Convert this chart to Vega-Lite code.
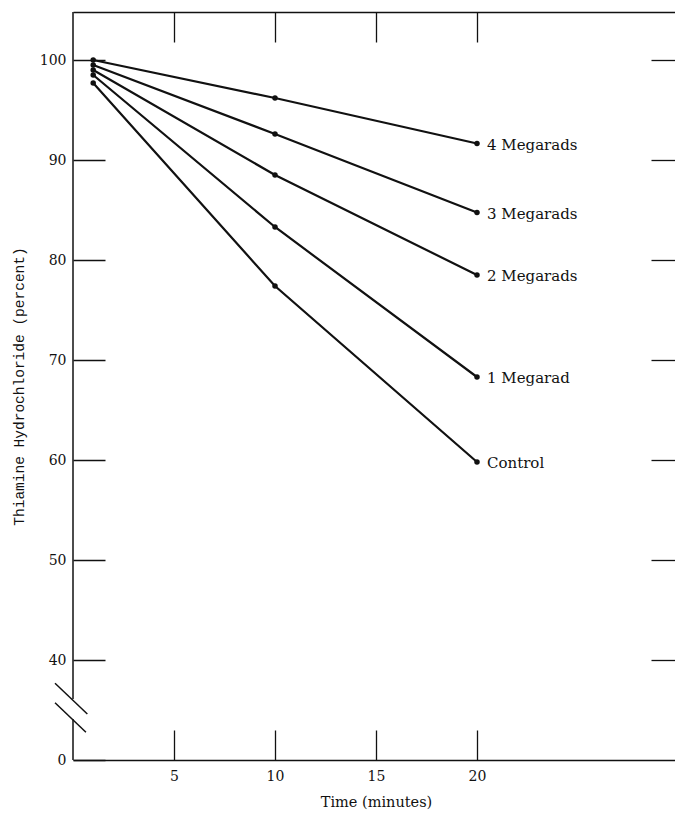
{
  "$schema": "https://vega.github.io/schema/vega-lite/v6.json",
  "width": 606,
  "height": 748,
  "autosize": {"type": "none"},
  "padding": {"left": 73, "top": 12, "right": 0, "bottom": 53},
  "background": "white",
  "config": {
    "view": {"stroke": null},
    "axis": {
      "grid": false,
      "domainColor": "#111",
      "tickColor": "#111",
      "labelColor": "#111",
      "titleColor": "#111",
      "domainWidth": 1.5,
      "tickWidth": 1.3,
      "labelFont": "DejaVu Serif",
      "labelFontSize": 14,
      "titleFontWeight": "normal"
    }
  },
  "datasets": {
    "thiamine": [
      {"series": "4 Megarads", "time": 1, "value": 100.0},
      {"series": "4 Megarads", "time": 10, "value": 96.2},
      {"series": "4 Megarads", "time": 20, "value": 91.65},
      {"series": "3 Megarads", "time": 1, "value": 99.5},
      {"series": "3 Megarads", "time": 10, "value": 92.6},
      {"series": "3 Megarads", "time": 20, "value": 84.75},
      {"series": "2 Megarads", "time": 1, "value": 99.0},
      {"series": "2 Megarads", "time": 10, "value": 88.5},
      {"series": "2 Megarads", "time": 20, "value": 78.5},
      {"series": "1 Megarad", "time": 1, "value": 98.5},
      {"series": "1 Megarad", "time": 10, "value": 83.3},
      {"series": "1 Megarad", "time": 20, "value": 68.3},
      {"series": "Control", "time": 1, "value": 97.7},
      {"series": "Control", "time": 10, "value": 77.4},
      {"series": "Control", "time": 20, "value": 59.8}
    ]
  },
  "layer": [
    {
      "data": {"name": "thiamine"},
      "mark": {"type": "line", "color": "#111", "strokeWidth": 2.2},
      "encoding": {
        "x": {
          "field": "time", "type": "quantitative",
          "scale": {"domain": [0, 30], "nice": false, "zero": false},
          "axis": {
            "orient": "bottom",
            "values": [5, 10, 15, 20],
            "tickSize": -30,
            "labelPadding": 39,
            "domain": true,
            "title": "Time (minutes)",
            "titleFont": "DejaVu Serif",
            "titleFontSize": 14.5,
            "titlePadding": 12
          }
        },
        "y": {
          "field": "value", "type": "quantitative",
          "scale": {"domain": [30, 104.8], "nice": false, "zero": false},
          "axis": {
            "orient": "left",
            "values": [30, 40, 50, 60, 70, 80, 90, 100],
            "labelExpr": "datum.value < 35 ? '0' : datum.label",
            "tickSize": -32,
            "labelPadding": 39,
            "domain": false,
            "title": "Thiamine Hydrochloride (percent)",
            "titleFont": "Liberation Mono",
            "titleFontSize": 14.5,
            "titlePadding": 13
          }
        },
        "detail": {"field": "series"}
      }
    },
    {
      "data": {"name": "thiamine"},
      "mark": {"type": "circle", "color": "#111", "opacity": 1, "size": 30},
      "encoding": {
        "x": {"field": "time", "type": "quantitative", "scale": {"domain": [0, 30], "nice": false, "zero": false}, "axis": null},
        "y": {"field": "value", "type": "quantitative", "scale": {"domain": [30, 104.8], "nice": false, "zero": false}, "axis": null}
      }
    },
    {
      "data": {"name": "thiamine"},
      "transform": [{"filter": "datum.time == 20"}],
      "mark": {"type": "text", "align": "left", "baseline": "middle", "dx": 10, "dy": 1, "font": "DejaVu Serif", "fontSize": 15, "color": "#111"},
      "encoding": {
        "x": {"field": "time", "type": "quantitative", "scale": {"domain": [0, 30], "nice": false, "zero": false}, "axis": null},
        "y": {"field": "value", "type": "quantitative", "scale": {"domain": [30, 104.8], "nice": false, "zero": false}, "axis": null},
        "text": {"field": "series"}
      }
    },
    {
      "data": {"name": "thiamine"},
      "mark": {"type": "point", "opacity": 0},
      "encoding": {
        "x": {
          "field": "time", "type": "quantitative",
          "scale": {"domain": [0, 30], "nice": false, "zero": false},
          "axis": {"orient": "top", "values": [5, 10, 15, 20], "tickSize": -30, "labels": false, "domain": true, "title": null}
        },
        "y": {
          "field": "value", "type": "quantitative",
          "scale": {"domain": [30, 104.8], "nice": false, "zero": false},
          "axis": {"orient": "right", "values": [40, 50, 60, 70, 80, 90, 100], "tickSize": -28, "labels": false, "domain": true, "title": null}
        }
      }
    },
    {
      "data": {"values": [{"y": 30, "y2": 34.1}, {"y": 36.1, "y2": 104.8}]},
      "mark": {"type": "rule", "color": "#111", "strokeWidth": 1.5},
      "encoding": {
        "x": {"datum": 0, "type": "quantitative", "scale": {"domain": [0, 30], "nice": false, "zero": false}, "axis": null},
        "y": {"field": "y", "type": "quantitative", "scale": {"domain": [30, 104.8], "nice": false, "zero": false}, "axis": null},
        "y2": {"field": "y2"}
      }
    },
    {
      "data": {"values": [{"x": -0.89, "y": 37.67, "x2": 0.71, "y2": 34.6}, {"x": -0.89, "y": 35.73, "x2": 0.64, "y2": 32.77}]},
      "mark": {"type": "rule", "color": "#111", "strokeWidth": 1.5},
      "encoding": {
        "x": {"field": "x", "type": "quantitative", "scale": {"domain": [0, 30], "nice": false, "zero": false}, "axis": null},
        "y": {"field": "y", "type": "quantitative", "scale": {"domain": [30, 104.8], "nice": false, "zero": false}, "axis": null},
        "x2": {"field": "x2"},
        "y2": {"field": "y2"}
      }
    }
  ]
}
